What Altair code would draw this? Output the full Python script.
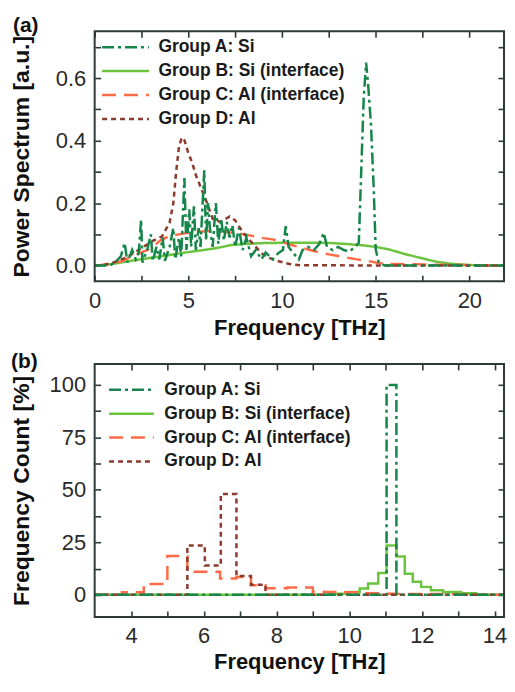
import altair as alt
import pandas as pd

FONT = "Liberation Sans"

groups = ["Group A: Si", "Group B: Si (interface)", "Group C: Al (interface)", "Group D: Al"]
colors = ["#15854a", "#6cc43e", "#ff6b47", "#8c3a2c"]
dashes = [[12, 4, 3, 4], [1, 0], [14, 8], [5, 4]]
panel_labels = ["(a)", "(b)"]

# ---------- panel (a): power spectrum ----------
a_freq_A = [0, 0.8, 1.1, 1.4, 1.6, 1.75, 2.0, 2.2, 2.35, 2.48, 2.55, 2.8, 3.0, 3.1, 3.3, 3.45, 3.63, 3.75,
            4.0, 4.2, 4.3, 4.5, 4.62, 4.79, 4.9, 5.05, 5.15, 5.3, 5.4, 5.55, 5.65, 5.85, 5.95, 6.05, 6.15,
            6.3, 6.47, 6.6, 6.75, 6.9, 7.05, 7.2, 7.35, 7.5, 7.7, 7.9, 8.1, 8.35, 8.6, 8.9, 9.13, 9.5, 9.8,
            10.05, 10.2, 10.35, 10.6, 10.9, 11.1, 11.4, 11.7, 12.0, 12.23, 12.4, 12.7, 13.0, 13.3, 13.6,
            13.9, 14.1, 14.36, 14.49, 14.6, 14.75, 14.9, 15.0, 15.16, 15.5, 21.85]
a_pow_A = [0, 0, 0.01, 0.03, 0.073, 0.01, 0.05, 0.02, 0.04, 0.147, 0.01, 0.05, 0.1, 0.015, 0.06, 0.02, 0.09, 0.015,
           0.06, 0.12, 0.02, 0.09, 0.03, 0.28, 0.05, 0.18, 0.06, 0.19, 0.05, 0.12, 0.06, 0.305, 0.08, 0.2, 0.12,
           0.06, 0.2, 0.07, 0.15, 0.08, 0.14, 0.09, 0.13, 0.06, 0.12, 0.05, 0.09, 0.03, 0.05, 0.02, 0.042, 0.02, 0.04,
           0.05, 0.126, 0.06, 0.04, 0.02, 0.05, 0.06, 0.05, 0.07, 0.105, 0.06, 0.05, 0.06, 0.05, 0.045,
           0.06, 0.073, 0.535, 0.65, 0.577, 0.45, 0.24, 0.053, 0.01, 0, 0]

a_freq_B = [0, 0.5, 1.0, 2.0, 3.0, 3.8, 4.6, 5.6, 6.5, 7.3, 8.2, 9.0, 10.0, 11.0, 12.0, 12.7, 13.5, 14.3,
            15.0, 15.7, 16.5, 17.3, 18.2, 19.0, 20.0, 21.0, 21.85]
a_pow_B = [0, 0.002, 0.006, 0.016, 0.025, 0.032, 0.04, 0.048, 0.056, 0.066, 0.07, 0.072, 0.073, 0.073, 0.073,
           0.072, 0.069, 0.065, 0.06, 0.052, 0.038, 0.026, 0.013, 0.006, 0.002, 0.0, 0]

a_freq_C = [0, 0.8, 1.5, 2.0, 2.5, 3.0, 3.5, 4.0, 4.5, 5.0, 5.5, 6.0, 6.5, 7.0, 7.5, 8.0, 8.5, 9.0, 9.5, 10.0,
            10.5, 11.0, 11.5, 12.0, 12.5, 13.0, 13.5, 14.0, 14.5, 15.0, 15.5, 16.0, 17.0, 18.0, 19.0, 20.0, 21.85]
a_pow_C = [0, 0.005, 0.015, 0.03, 0.042, 0.055, 0.08, 0.095, 0.1, 0.105, 0.108, 0.11, 0.112, 0.108, 0.104, 0.1,
           0.094, 0.088, 0.084, 0.076, 0.066, 0.058, 0.05, 0.042, 0.036, 0.031, 0.025, 0.02, 0.016, 0.01, 0.006,
           0.005, 0.004, 0.003, 0.003, 0.001, 0]

a_freq_D = [0, 0.5, 1.0, 1.7, 2.4, 3.1, 3.6, 4.0, 4.2, 4.35, 4.5, 4.65, 4.8, 5.0, 5.2, 5.4, 5.6, 5.8, 6.0, 6.3,
            6.7, 7.0, 7.2, 7.5, 7.7, 8.0, 8.4, 8.9, 9.3, 9.7, 10.4, 11.0, 21.85]
a_pow_D = [0, 0.002, 0.01, 0.026, 0.052, 0.079, 0.094, 0.137, 0.2, 0.3, 0.38, 0.41, 0.4, 0.36, 0.33, 0.29, 0.26,
           0.23, 0.2, 0.15, 0.14, 0.15, 0.157, 0.145, 0.126, 0.1, 0.073, 0.04, 0.025, 0.016, 0.005, 0.001, 0]

# ---------- panel (b): frequency count histograms (bin edges, value after edge) ----------
b_edges_A = [3.0, 11.03, 11.3, 14.26]
b_count_A = [0, 100, 0, 0]

b_edges_B = [3.0, 9.6, 9.97, 10.29, 10.52, 10.8, 11.03, 11.3, 11.53, 11.75, 11.98, 12.25, 12.58, 13.08, 13.5, 14.26]
b_count_B = [0, 0.5, 1.4, 3.0, 5.4, 10.4, 23.5, 18.3, 10.0, 6.2, 3.8, 2.2, 1.4, 0.8, 0, 0]

b_edges_C = [3.0, 3.75, 4.35, 5.0, 5.55, 6.45, 6.9, 7.3, 7.7, 8.3, 9.0, 9.3, 9.7, 10.3, 10.8, 11.2, 12.5, 13.0, 14.26]
b_count_C = [0, 1.2, 5.2, 18.5, 11.0, 7.8, 8.5, 4.6, 3.2, 3.5, 1.5, 1.4, 1.2, 0.8, 0.5, 0.4, 0.3, 0, 0]

b_edges_D = [3.0, 5.55, 6.03, 6.47, 6.9, 7.3, 7.7, 14.26]
b_count_D = [0, 23.5, 14.0, 48.0, 9.0, 4.8, 0, 0]


def long_df(series):
    frames = [pd.DataFrame({"f": fx, "v": vy, "g": g}) for g, fx, vy in series]
    return pd.concat(frames, ignore_index=True)


dfa = long_df([(groups[1], a_freq_B, a_pow_B), (groups[2], a_freq_C, a_pow_C),
               (groups[3], a_freq_D, a_pow_D), (groups[0], a_freq_A, a_pow_A)])
dfb = long_df([(groups[1], b_edges_B, b_count_B), (groups[2], b_edges_C, b_count_C),
               (groups[3], b_edges_D, b_count_D), (groups[0], b_edges_A, b_count_A)])

TICK = 6
FRAME = "#2d3a3a"
# inward ticks: axis shifted inside by TICK, ticks drawn outward back to the frame
AX = dict(labelFont=FONT, titleFont=FONT, labelColor="#2a2a2a", titleColor="#111", tickColor=FRAME,
          tickWidth=1.6, domain=False, grid=False, labelFlush=False, labelOverlap=False,
          tickSize=TICK, offset=-TICK, labelFontSize=22, titleFontWeight="bold", minExtent=0)

W = 411


def panel(df, xdom, ydom, xvals, xlab, yvals, ylab, ytitle, H, label, lab_x, lab_y,
          interp, legX, legY, symlen, laboff, lpad, tpad):
    xs = alt.Scale(domain=xdom, nice=False, zero=False)
    ys = alt.Scale(domain=ydom, nice=False, zero=False)
    leg = alt.Legend(title=None, orient="none", legendX=legX, legendY=legY, direction="vertical",
                     padding=0, clipHeight=24, rowPadding=0, symbolType="stroke", symbolSize=symlen ** 2,
                     symbolStrokeWidth=2.5, labelFont=FONT, labelFontSize=17.5, labelFontWeight="bold",
                     labelColor="#1a1a1a", labelOffset=laboff, labelLimit=400)
    base = alt.Chart(df).mark_line(strokeWidth=2.5, interpolate=interp, clip=True).encode(
        x=alt.X("f:Q", scale=xs, axis=alt.Axis(orient="bottom", values=xvals, labelExpr=xlab,
                                               title="Frequency [THz]", titleFontSize=22,
                                               labelPadding=lpad, titlePadding=tpad, **AX)),
        y=alt.Y("v:Q", scale=ys, axis=alt.Axis(orient="left", values=yvals, labelExpr=ylab, title=ytitle,
                                               titleFontSize=23, labelPadding=9, titleX=-61 - TICK, **AX)),
        color=alt.Color("g:N", scale=alt.Scale(domain=groups, range=colors), legend=leg),
        strokeDash=alt.StrokeDash("g:N", scale=alt.Scale(domain=groups, range=dashes), legend=leg),
    )
    mirror = alt.Chart(df).mark_line(opacity=0).encode(
        x=alt.X("f:Q", scale=xs, axis=alt.Axis(orient="top", values=xvals, labels=False, title=None, **AX)),
        y=alt.Y("v:Q", scale=ys, axis=alt.Axis(orient="right", values=yvals, labels=False, title=None, **AX)),
    )
    ldf = pd.DataFrame({"t": [label]})
    frame = alt.Chart(ldf).mark_rect(fillOpacity=0, stroke=FRAME, strokeWidth=2).encode(
        x=alt.value(0), x2=alt.value(W), y=alt.value(0), y2=alt.value(H))
    lab = alt.Chart(ldf).mark_text(
        font=FONT, fontSize=21, fontWeight="bold", align="left", baseline="alphabetic", color="#111"
    ).encode(text="t:N", x=alt.value(lab_x), y=alt.value(lab_y))
    return alt.layer(base, mirror, frame, lab).resolve_axis(x="independent", y="independent").properties(
        width=W, height=H)


pa = panel(dfa, [0, 21.85], [-0.05, 0.75],
           [0, 2.5, 5, 7.5, 10, 12.5, 15, 17.5, 20],
           "datum.value % 5 === 0 ? format(datum.value, 'd') : ''",
           [0, 0.1, 0.2, 0.3, 0.4, 0.5, 0.6, 0.7],
           "round(datum.value * 10) % 2 === 0 ? format(datum.value, '.1f') : ''",
           "Power Spectrum [a.u.]", 251, panel_labels[0], -82, 1, "linear", 6, 4, 47, 8, 9, 6)

pb = panel(dfb, [3, 14.26], [-10.5, 110],
           [4, 5, 6, 7, 8, 9, 10, 11, 12, 13, 14],
           "datum.value % 2 === 0 ? format(datum.value, 'd') : ''",
           [0, 12.5, 25, 37.5, 50, 62.5, 75, 87.5, 100],
           "datum.value % 25 === 0 ? format(datum.value, 'd') : ''",
           "Frequency Count [%]", 254, panel_labels[1], -84, 4, "step-after", 13, 14, 45, 9, 9, 5)

chart = alt.vconcat(pa, pb, spacing=13).resolve_scale(
    color="independent", strokeDash="independent"
).properties(
    padding={"left": 2, "top": 6, "right": 0, "bottom": 0}, background="white"
).configure_view(strokeWidth=0)

chart.save("out.html", embed_options={"renderer": "svg", "actions": False})
